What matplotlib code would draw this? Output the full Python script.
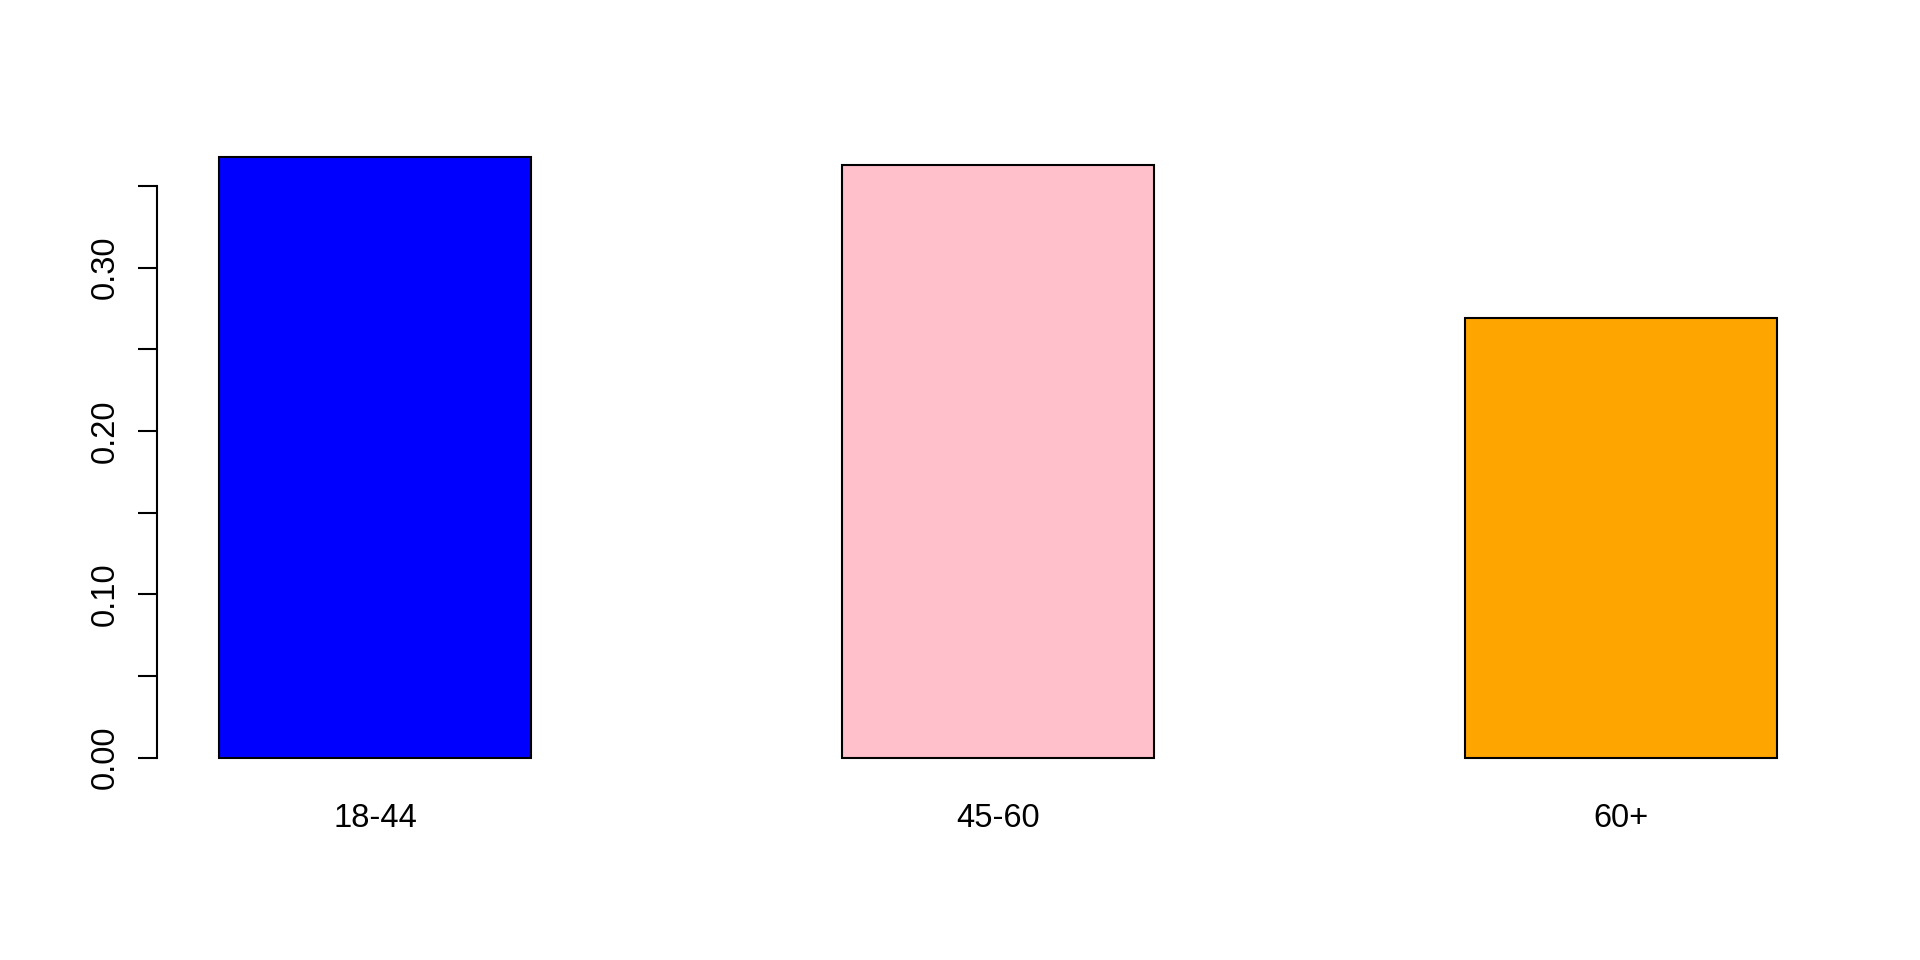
import numpy as np
import matplotlib
matplotlib.use('Agg')
import matplotlib.pyplot as plt

# Age groups and their share
groups = ['18-44', '45-60', '60+']
shares = [0.368, 0.363, 0.269]
colors = ['#0000FF', '#FFC0CB', '#FFA500']

plt.rcParams['font.family'] = ['Liberation Sans', 'DejaVu Sans']

fig = plt.figure(figsize=(19.2, 9.6), dpi=100)
ax = fig.add_axes([0.0818, 0.1857, 0.9578 - 0.0818, 0.8619 - 0.1857])

# R style barplot: width 1, space 1
x = np.arange(len(groups)) * 2 + 1.5
ax.bar(x, shares, width=1, color=colors, edgecolor='black', linewidth=1.5)

ax.set_xlim(1 - 0.2, 6 + 0.2)
ax.set_ylim(-0.04 * max(shares), max(shares) * 1.04)

ax.set_xticks(x)
ax.set_xticklabels(groups, fontsize=23.5)
ax.tick_params(axis='x', length=0, pad=15)

yt = np.arange(0, 0.351, 0.05)
ax.set_yticks(yt)
ax.set_yticklabels(['0.00', '', '0.10', '', '0.20', '', '0.30', ''], fontsize=23.5,
                   rotation=90, va='center')
ax.tick_params(axis='y', length=13.5, width=1.5, pad=12.5, color='black')

for s in ['top', 'right', 'bottom']:
    ax.spines[s].set_visible(False)
ax.spines['left'].set_bounds(0, 0.35)
ax.spines['left'].set_linewidth(1.5)

fig.savefig('out.png', dpi=100)
